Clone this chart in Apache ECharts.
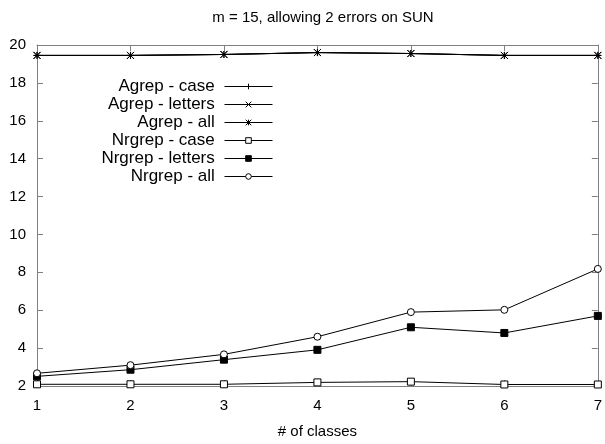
<!DOCTYPE html>
<html>
<head>
<meta charset="utf-8">
<script src="https://cdn.jsdelivr.net/npm/echarts@6/dist/echarts.min.js"></script>
<style>
html,body{margin:0;padding:0;background:#fff}
#main{width:605px;height:444px}
</style>
</head>
<body>
<div id="main"></div>
<script>
const classes = ['1', '2', '3', '4', '5', '6', '7']
const yTicks = [2, 4, 6, 8, 10, 12, 14, 16, 18, 20]

const agrepCase = [19.45, 19.45, 19.5, 19.6, 19.55, 19.45, 19.45]
const agrepLetters = [19.45, 19.45, 19.5, 19.6, 19.55, 19.45, 19.45]
const agrepAll = [19.45, 19.45, 19.5, 19.6, 19.55, 19.45, 19.45]
const nrgrepCase = [2.09, 2.09, 2.09, 2.19, 2.23, 2.08, 2.08]
const nrgrepLetters = [2.51, 2.86, 3.39, 3.91, 5.1, 4.8, 5.7]
const nrgrepAll = [2.67, 3.1, 3.67, 4.6, 5.9, 6.02, 8.18]

const plus = 'path://M5,0L5,10M0,5L10,5'
const cross = 'path://M0,0L10,10M0,10L10,0'
const star = 'path://M5,0L5,10M0,5L10,5M0,0L10,10M0,10L10,0'

const font = 'Liberation Sans, Arial, Helvetica, sans-serif'
const border = '#808080'

function mkSeries(name, data, symbol, fill) {
	return {
		name: name,
		type: 'line',
		data: data,
		symbol: symbol,
		symbolSize: 7,
		showSymbol: true,
		animation: false,
		lineStyle: { color: '#000', width: 1 },
		itemStyle: { color: fill, borderColor: '#000', borderWidth: 1 },
		emphasis: { disabled: true }
	}
}

const series = [
	mkSeries('Agrep - case', agrepCase, plus, '#fff'),
	mkSeries('Agrep - letters', agrepLetters, cross, '#fff'),
	mkSeries('Agrep - all', agrepAll, star, '#fff'),
	mkSeries('Nrgrep - case', nrgrepCase, 'rect', '#fff'),
	mkSeries('Nrgrep - letters', nrgrepLetters, 'rect', '#000'),
	mkSeries('Nrgrep - all', nrgrepAll, 'circle', '#fff')
]

const chart = echarts.init(document.getElementById('main'))
const option = {
	backgroundColor: '#fff',
	animation: false,
	title: {
		text: 'm = 15, allowing 2 errors on SUN',
		left: 318,
		textAlign: 'center',
		top: 5,
		textStyle: { fontFamily: font, fontSize: 15, fontWeight: 'normal', color: '#000' }
	},
	legend: {
		orient: 'vertical',
		align: 'right',
		right: 327,
		top: 73,
		itemWidth: 48,
		itemHeight: 7,
		itemGap: 1,
		formatter: name => name + ' ',
		lineStyle: { width: 1 },
		itemStyle: { borderWidth: 1 },
		textStyle: { fontFamily: font, fontSize: 17, color: '#000' },
		data: series.map(s => s.name)
	},
	grid: { left: 37, right: 7, top: 45, bottom: 57 },
	xAxis: [{
		type: 'category',
		data: classes,
		boundaryGap: false,
		position: 'bottom',
		name: '# of classes',
		nameLocation: 'middle',
		nameGap: 38,
		nameTextStyle: { fontFamily: font, fontSize: 15, color: '#000' },
		axisLine: { lineStyle: { color: border, width: 1 } },
		axisTick: { inside: true, length: 6, alignWithLabel: true, lineStyle: { color: border } },
		axisLabel: { fontFamily: font, fontSize: 15, color: '#000', margin: 12 },
		splitLine: { show: false }
	}, {
		type: 'category',
		data: classes,
		boundaryGap: false,
		position: 'top',
		axisLine: { lineStyle: { color: border, width: 1 } },
		axisTick: { inside: true, length: 6, lineStyle: { color: border } },
		axisLabel: { show: false },
		splitLine: { show: false }
	}],
	yAxis: [{
		type: 'value',
		min: yTicks[0],
		max: yTicks[yTicks.length - 1],
		interval: 2,
		position: 'left',
		axisLine: { show: true, lineStyle: { color: border, width: 1 } },
		axisTick: { show: true, inside: true, length: 6, lineStyle: { color: border } },
		axisLabel: { fontFamily: font, fontSize: 15, color: '#000', margin: 11 },
		splitLine: { show: false }
	}, {
		type: 'value',
		min: yTicks[0],
		max: yTicks[yTicks.length - 1],
		interval: 2,
		position: 'right',
		axisLine: { show: true, lineStyle: { color: border, width: 1 } },
		axisTick: { show: true, inside: true, length: 6, lineStyle: { color: border } },
		axisLabel: { show: false },
		splitLine: { show: false }
	}],
	series: series
}
chart.setOption(option)
</script>
</body>
</html>
